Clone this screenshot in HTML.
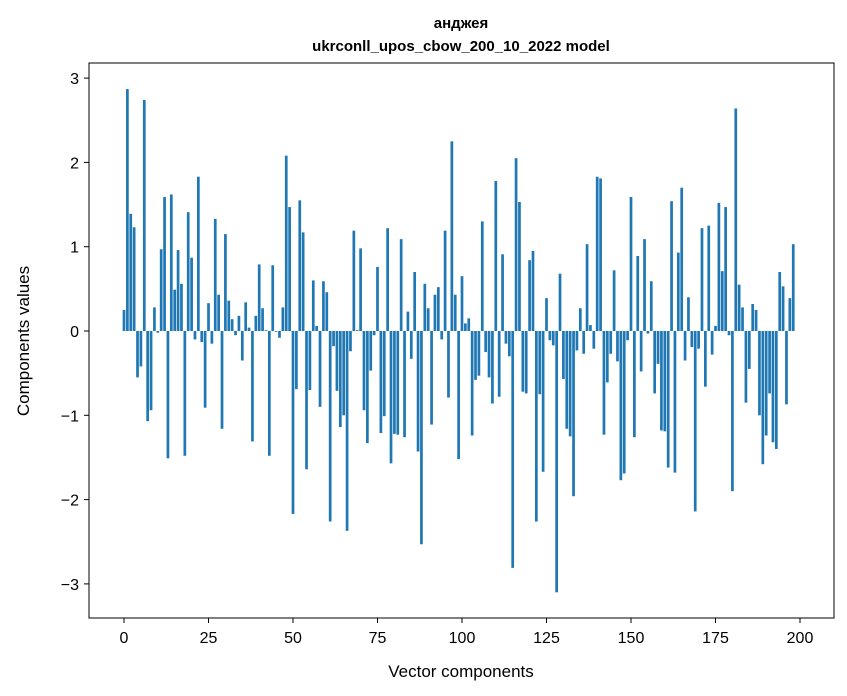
<!DOCTYPE html>
<html><head><meta charset="utf-8"><style>
body{margin:0;background:#fff}
svg{display:block;font-family:"Liberation Sans","DejaVu Sans",sans-serif}
</style></head><body>
<svg id="chart" width="847" height="696">
<text x="461" y="28" text-anchor="middle" font-size="15" font-weight="bold">анджея</text>
<text x="461" y="51" text-anchor="middle" font-size="15" font-weight="bold">ukrconll_upos_cbow_200_10_2022 model</text>
<g id="bars"></g>
<rect x="89" y="63" width="745" height="555" fill="none" stroke="#000" stroke-width="1"/>
<g id="xticks"></g>
<g id="yticks"></g>
<text x="461" y="677" text-anchor="middle" font-size="17">Vector components</text>
<text x="29" y="341" text-anchor="middle" font-size="17" transform="rotate(-90 29 341)">Components values</text>
</svg>
<script>
const values = [0.25,2.87,1.39,1.23,-0.55,-0.42,2.74,-1.07,-0.94,0.28,-0.02,0.97,1.59,-1.51,1.62,0.49,0.96,0.56,-1.48,1.41,
0.87,-0.10,1.83,-0.13,-0.91,0.33,-0.15,1.33,0.43,-1.16,1.15,0.36,0.14,-0.05,0.18,-0.35,0.34,0.04,-1.31,0.18,
0.79,0.27,0.01,-1.48,0.78,-0.01,-0.08,0.28,2.08,1.47,-2.17,-0.69,1.55,1.17,-1.64,-0.70,0.60,0.06,-0.90,0.59,
0.46,-2.26,-0.18,-0.71,-1.14,-1.00,-2.37,-0.24,1.19,0.01,0.98,-0.94,-1.33,-0.47,-0.05,0.76,-1.21,-1.01,1.22,-1.57,
-1.22,-1.23,1.09,-1.26,0.23,-0.33,0.70,-1.43,-2.53,0.56,0.27,-1.11,0.43,0.52,-0.10,1.19,-0.79,2.25,0.43,-1.52,
0.65,0.09,0.15,-1.24,-0.58,-0.53,1.30,-0.25,-0.55,-0.86,1.78,-0.78,0.91,-0.15,-0.30,-2.81,2.05,1.53,-0.72,-0.74,
0.84,0.95,-2.26,-0.75,-1.67,0.39,-0.11,-0.17,-3.10,0.68,-0.57,-1.16,-1.25,-1.96,-0.23,0.27,-0.27,1.03,0.07,-0.21,
1.83,1.81,-1.23,-0.61,-0.27,0.72,-0.36,-1.77,-1.69,-0.11,1.59,-1.26,0.89,-0.48,1.09,-0.03,0.59,-0.74,-0.39,-1.18,
-1.19,-1.62,1.54,-1.68,0.93,1.70,-0.35,0.40,-0.19,-2.14,-0.21,1.22,-0.66,1.25,-0.28,0.06,1.52,0.71,1.47,-0.05,
-1.90,2.64,0.55,0.28,-0.85,-0.45,0.32,0.25,-1.00,-1.58,-1.24,-0.74,-1.32,-1.40,0.70,0.53,-0.87,0.39,1.03];
const xTicks = [0,25,50,75,100,125,150,175,200];
const yTicks = [-3,-2,-1,0,1,2,3];
const NS="http://www.w3.org/2000/svg";
const xs = v => 124 + 3.38*v;
const ys = v => 331 - 84.3*v;
const bars=document.getElementById('bars');
values.forEach((v,i)=>{
  const r=document.createElementNS(NS,'rect');
  const y0=ys(Math.max(v,0)), y1=ys(Math.min(v,0));
  r.setAttribute('x',xs(i-0.4)); r.setAttribute('width',3.38*0.8);
  r.setAttribute('y',y0); r.setAttribute('height',Math.max(y1-y0,0));
  r.setAttribute('fill','#1f77b4');
  
  
  bars.appendChild(r);
});
const xg=document.getElementById('xticks');
xTicks.forEach(t=>{
  const l=document.createElementNS(NS,'line');
  l.setAttribute('x1',xs(t));l.setAttribute('x2',xs(t));l.setAttribute('y1',618);l.setAttribute('y2',623);l.setAttribute('stroke','#000');
  
  
  xg.appendChild(l);
  const tx=document.createElementNS(NS,'text');
  tx.setAttribute('x',xs(t));tx.setAttribute('y',643);tx.setAttribute('text-anchor','middle');tx.setAttribute('font-size','16');
  tx.textContent=t;
  
  
  xg.appendChild(tx);
});
const yg=document.getElementById('yticks');
yTicks.forEach(t=>{
  const l=document.createElementNS(NS,'line');
  l.setAttribute('x1',84);l.setAttribute('x2',89);l.setAttribute('y1',ys(t));l.setAttribute('y2',ys(t));l.setAttribute('stroke','#000');
  
  
  yg.appendChild(l);
  const tx=document.createElementNS(NS,'text');
  tx.setAttribute('x',79);tx.setAttribute('y',ys(t)+6);tx.setAttribute('text-anchor','end');tx.setAttribute('font-size','16');
  tx.textContent=(t<0?'\u2212':'')+Math.abs(t);
  
  
  yg.appendChild(tx);
});
</script>
</body></html>
